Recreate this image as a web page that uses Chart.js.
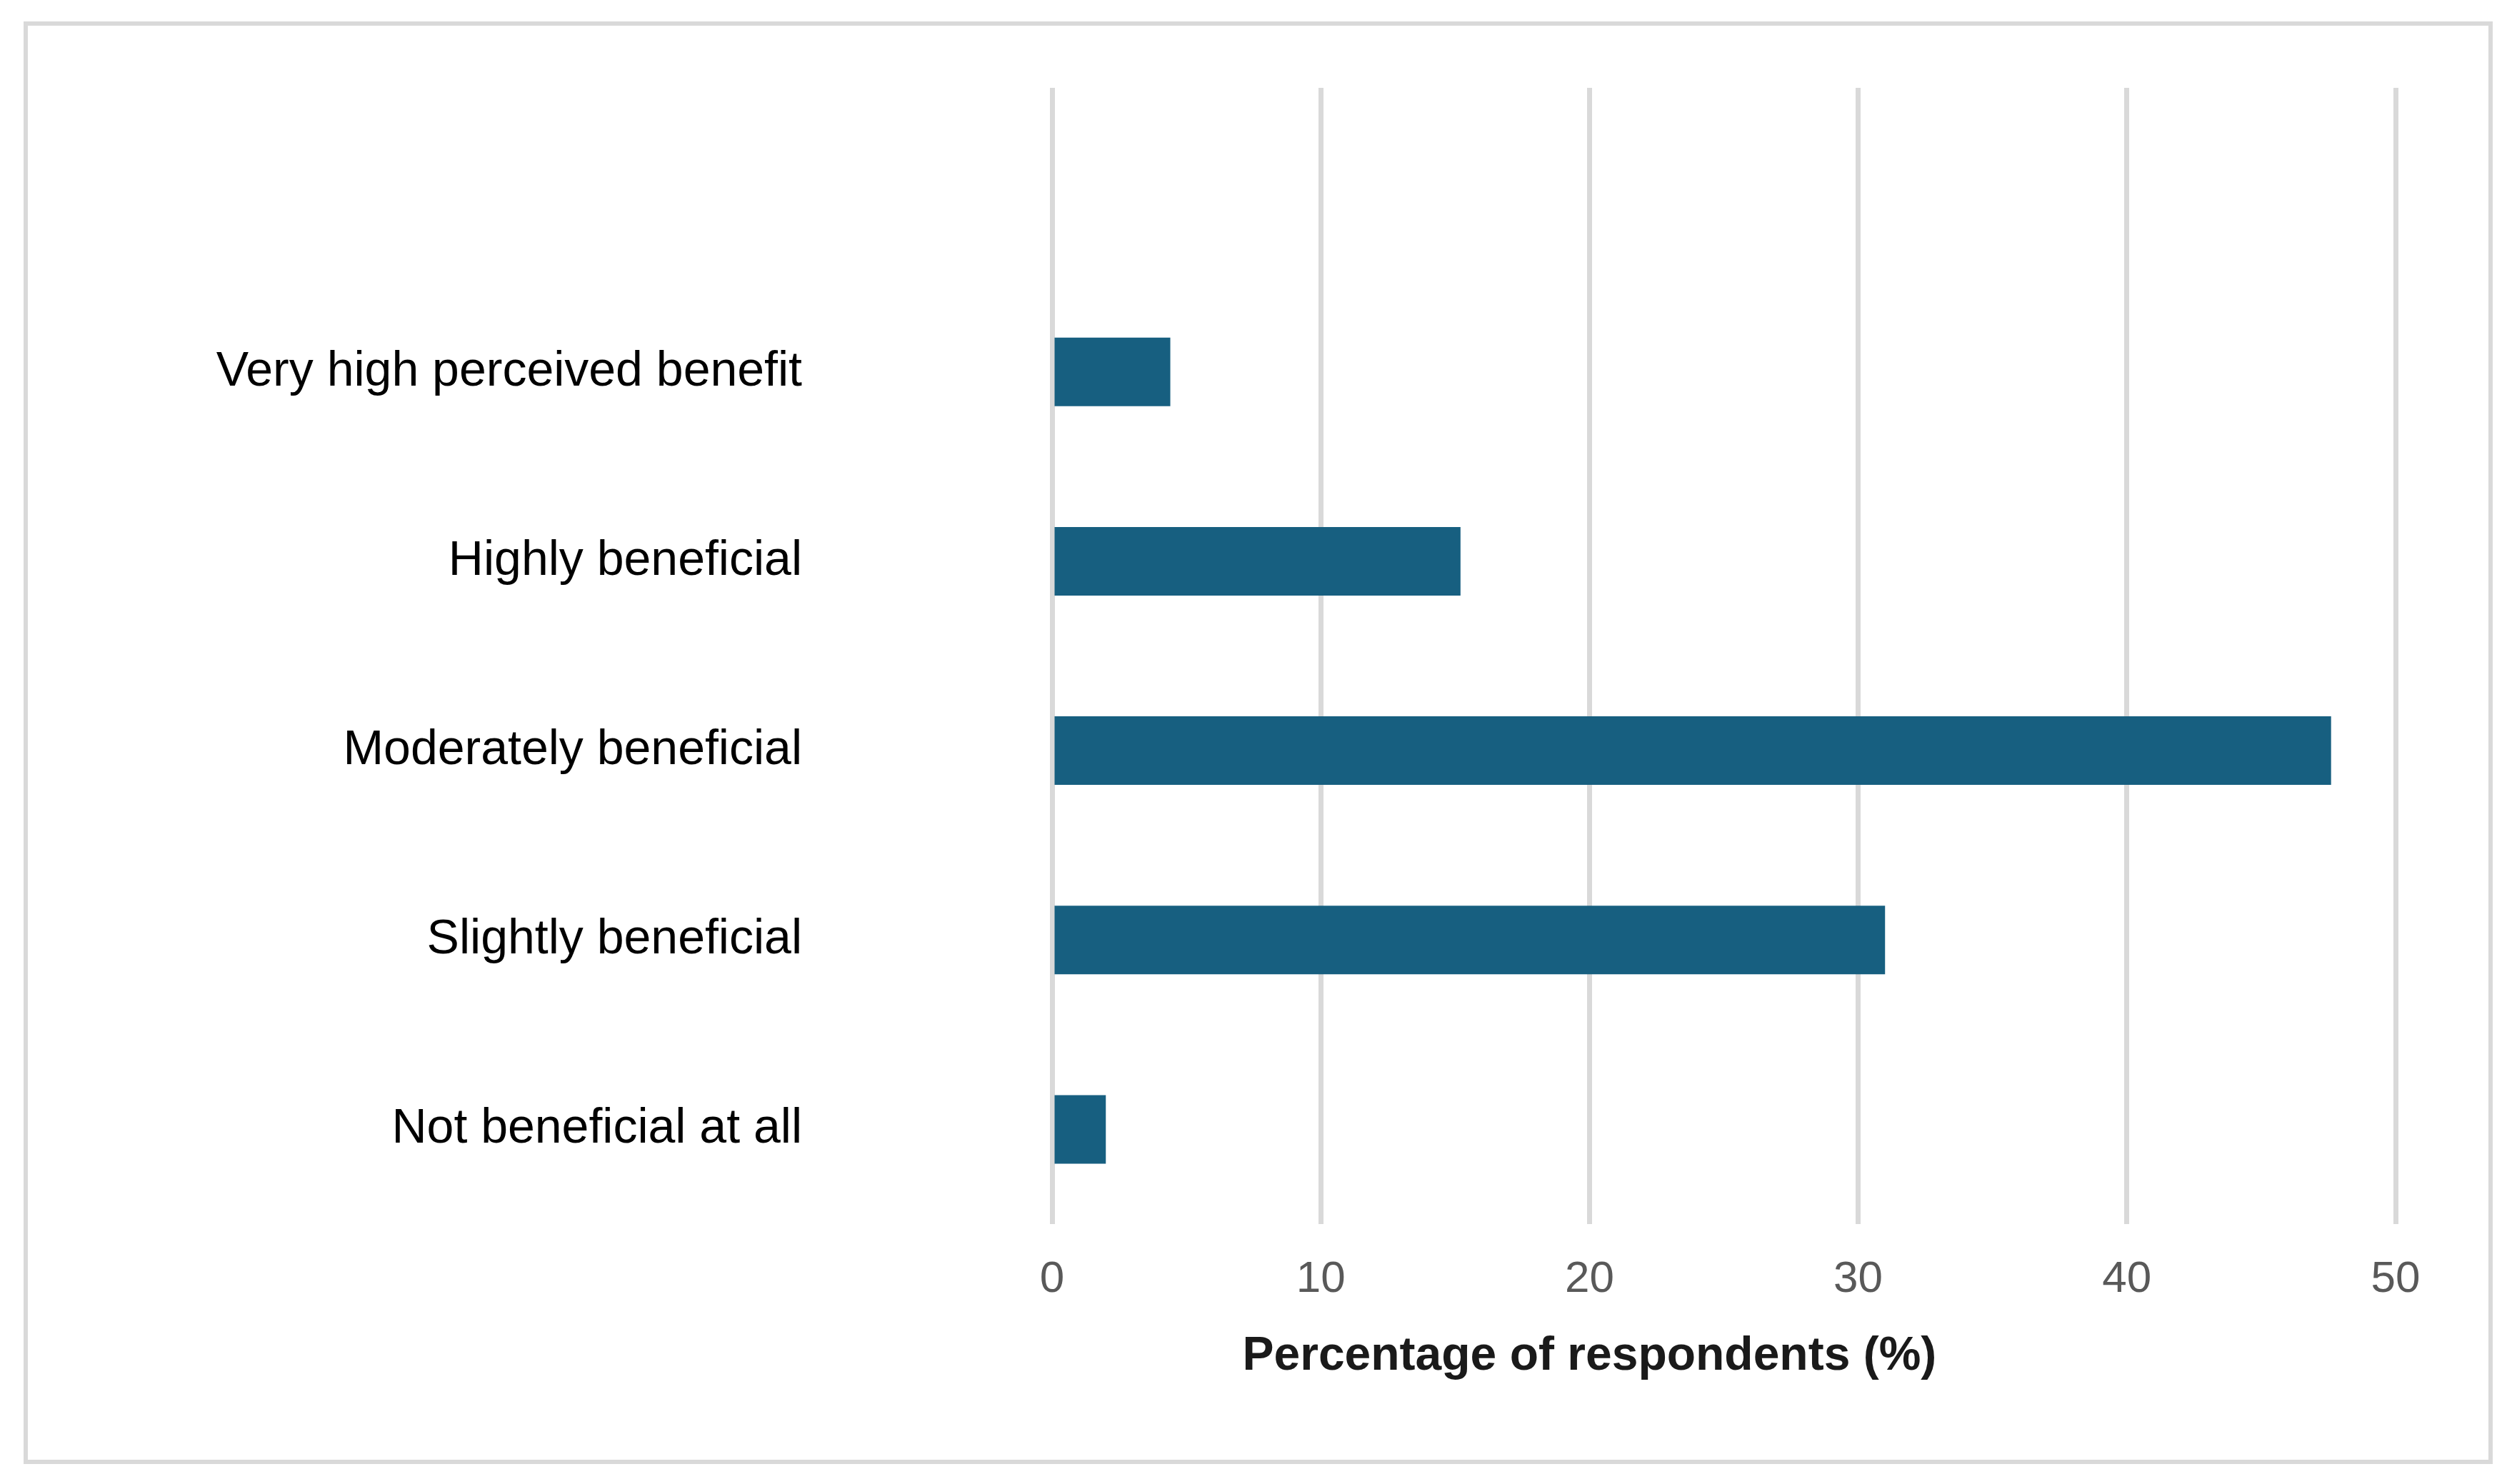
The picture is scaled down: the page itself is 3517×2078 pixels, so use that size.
<!DOCTYPE html>
<html>
<head>
<meta charset="utf-8">
<script src="https://cdn.jsdelivr.net/npm/chart.js@4.4.1/dist/chart.umd.min.js"></script>
<style>
html,body{margin:0;padding:0;background:#fff;}
#wrap{position:relative;width:3517px;height:2078px;}
#frame{position:absolute;left:33px;top:30px;width:3457px;height:2020px;border:6px solid #d9d9d9;box-sizing:border-box;pointer-events:none;}
canvas{position:absolute;left:0;top:0;}
</style>
</head>
<body>
<div id="wrap">
<canvas id="c" width="3517" height="2078"></canvas>
<div id="frame"></div>
</div>
<script>
const categories = ['', 'Very high perceived benefit', 'Highly beneficial', 'Moderately beneficial', 'Slightly beneficial', 'Not beneficial at all'];
const percentages = [null, 4.4, 15.2, 47.6, 31.0, 2.0];
const xTicks = [0, 10, 20, 30, 40, 50];
const xTitle = 'Percentage of respondents (%)';

const titlePlugin = {
  id: 'offsetTitle',
  afterDraw(chart) {
    const ctx = chart.ctx;
    const xs = chart.scales.x;
    ctx.save();
    ctx.font = 'bold 66px "Liberation Sans", Arial, sans-serif';
    ctx.fillStyle = '#1a1a1a';
    ctx.textAlign = 'center';
    ctx.textBaseline = 'middle';
    ctx.fillText(xTitle, xs.left + (xs.right - xs.left) * 0.4, xs.bottom - 178);
    ctx.restore();
  }
};

new Chart(document.getElementById('c'), {
  type: 'bar',
  data: {
    labels: categories,
    datasets: [{
      data: percentages,
      backgroundColor: '#175f80',
      borderWidth: 0,
      barPercentage: 0.362,
      categoryPercentage: 1.0
    }]
  },
  options: {
    indexAxis: 'y',
    responsive: false,
    animation: false,
    devicePixelRatio: 1,
    layout: { padding: { top: 123, right: 163, left: 0, bottom: 0 } },
    plugins: { legend: { display: false }, tooltip: { enabled: false } },
    scales: {
      x: {
        type: 'linear',
        min: xTicks[0],
        max: xTicks[xTicks.length - 1],
        afterFit(s) { s.height = 364; s.paddingLeft = 0; s.paddingRight = 0; },
        afterBuildTicks(s) { s.ticks = xTicks.map(v => ({ value: v })); },
        grid: { color: '#d9d9d9', lineWidth: 7, drawTicks: false },
        border: { display: false },
        ticks: {
          padding: 41,
          color: '#595959',
          font: { family: '"Liberation Sans", Arial, sans-serif', size: 62 },
          maxRotation: 0
        }
      },
      y: {
        afterFit(s) { s.width = 1473; s.paddingTop = 0; s.paddingBottom = 0; },
        grid: { display: false, drawTicks: false },
        border: { display: false },
        ticks: {
          padding: 350,
          crossAlign: 'near',
          color: '#000000',
          font: { family: '"Liberation Sans", Arial, sans-serif', size: 68 }
        }
      }
    }
  },
  plugins: [titlePlugin]
});
</script>
</body>
</html>
